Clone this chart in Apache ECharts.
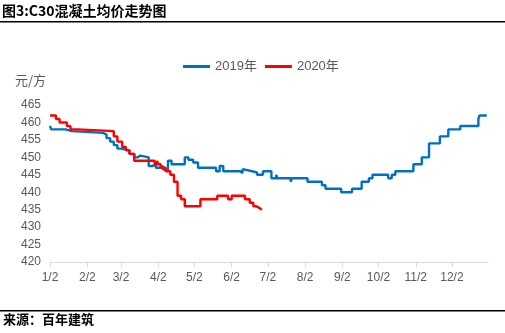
<!DOCTYPE html>
<html>
<head>
<meta charset="utf-8">
<script src="https://cdn.jsdelivr.net/npm/echarts@6/dist/echarts.min.js"></script>
<style>
  html, body { margin: 0; padding: 0; background: #fff; }
  #chart { width: 505px; height: 333px; }
</style>
</head>
<body>
<div id="chart"></div>
<script>
// C30 concrete average price (元/方); each entry is a date on which the price moved to a new level
const dates2019 = ['01-02','01-03','01-15','01-20','02-15','02-18','02-21','02-24','02-27','03-02','03-09','03-13','03-16','03-18','03-25','03-28','03-31','04-03','04-06','04-10','04-13','04-24','04-27','05-01','05-05','05-20','05-23','05-26','06-09','06-11','06-13','06-19','06-23','06-28','07-05','07-09','07-10','07-21','07-22','08-04','08-16','08-19','09-01','09-10','09-18','09-24','09-27','10-10','10-13','10-16','10-31','11-07','11-13','11-22','11-29','12-09','12-24','12-25','12-31'];
const prices2019 = [459,458,457.5,457,456.5,455.5,454.5,453.5,452.5,452,451,450,450.5,450,447.5,448,447,447.5,446.5,449,448,450,449.3,448.5,447,446,447.5,446,445.5,446.5,446,445.7,445,446,444,445,444,443,444,443,442,441,440,441,443,444,445,444,445,446,448,450,454,456,458,459,461,462,462];

const dates2020 = ['01-02','01-07','01-10','01-16','01-19','01-25','02-24','02-27','03-03','03-06','03-09','03-13','03-30','04-01','04-02','04-04','04-08','04-12','04-15','04-18','04-21','04-24','05-07','05-21','05-30','06-02','06-13','06-17','06-20','06-22','06-25','06-27'];
const prices2020 = [462,461,460,459,458,457.5,456,454.5,453,452,451,449,448,449,448,447,446,445,443,439,438,436,438,439,438,439,438,437,436,435.5,435,435];

// x-axis label positions: the 2nd of every month
const monthTicks = ['01-02','02-02','03-02','04-02','05-02','06-02','07-02','08-02','09-02','10-02','11-02','12-02'];
const yTicks = { min: 420, max: 465, step: 5 };
const seriesNames = ['2019年', '2020年'];

// both years share one calendar (days counted from 2 Jan) so they overlay month by month
const DAY = 86400000;
const origin = Date.UTC(2019, 0, 2);
function toDay(md) {
  const p = md.split('-');
  return Math.round((Date.UTC(2019, +p[0] - 1, +p[1]) - origin) / DAY);
}
function dayLabel(n) {
  const d = new Date(origin + Math.round(n) * DAY);
  return (d.getUTCMonth() + 1) + '/' + d.getUTCDate();
}
function pairs(ds, vs) { return ds.map((d, i) => [toDay(d), vs[i]]); }

const gray = '#595959';
const font = "'Liberation Sans', Arial, 'Noto Sans CJK SC', sans-serif";
const cjk = "'Noto Sans CJK SC', 'Liberation Sans', sans-serif";
const tickDays = monthTicks.map(toDay);

const chart = echarts.init(document.getElementById('chart'), null, { renderer: 'canvas' });
chart.setOption({
  animation: false,
  backgroundColor: '#fff',
  grid: { left: 50, right: 17, top: 105, bottom: 71, containLabel: false },
  legend: {
    left: 178, top: 55,
    icon: 'rect', itemWidth: 27, itemHeight: 3, itemGap: 8,
    textStyle: { color: gray, fontSize: 13, fontFamily: font },
    data: seriesNames
  },
  xAxis: {
    type: 'value',
    min: 0,
    max: toDay('12-31') + 1,
    axisLine: { show: true, lineStyle: { color: '#d9d9d9', width: 1 } },
    axisTick: { show: true, length: 5, lineStyle: { color: '#d9d9d9' }, customValues: tickDays },
    axisLabel: {
      color: gray, fontSize: 12, fontFamily: font, margin: 10,
      customValues: tickDays,
      formatter: v => dayLabel(v)
    },
    splitLine: { show: false }
  },
  yAxis: {
    type: 'value',
    min: yTicks.min, max: yTicks.max, interval: yTicks.step,
    name: '元/方',
    nameLocation: 'end',
    nameGap: 18,
    nameTextStyle: { color: gray, fontSize: 13, fontFamily: cjk, align: 'right', padding: [0, 4, 0, 0] },
    axisLine: { show: false },
    axisTick: { show: false },
    splitLine: { show: false },
    axisLabel: { color: gray, fontSize: 12, fontFamily: font, margin: 9 }
  },
  series: [
    {
      name: seriesNames[0], type: 'line', step: 'end', showSymbol: false,
      data: pairs(dates2019, prices2019),
      lineStyle: { color: '#0070C0', width: 2.4 }, itemStyle: { color: '#0070C0' }
    },
    {
      name: seriesNames[1], type: 'line', step: 'end', showSymbol: false,
      data: pairs(dates2020, prices2020),
      lineStyle: { color: '#FF0000', width: 2.4 }, itemStyle: { color: '#FF0000' }
    }
  ],
  graphic: [
    { type: 'text', left: 2, top: 4, style: { text: '图3:C30混凝土均价走势图', fill: '#000', font: 'bold 14px ' + cjk } },
    { type: 'rect', shape: { x: 0, y: 21, width: 505, height: 1.5 }, style: { fill: '#000' } },
    { type: 'rect', shape: { x: 0, y: 310, width: 505, height: 1.5 }, style: { fill: '#000' } },
    { type: 'text', left: 3, top: 313, style: { text: '来源：百年建筑', fill: '#000', font: 'bold 13px ' + cjk } }
  ]
});
</script>
</body>
</html>
